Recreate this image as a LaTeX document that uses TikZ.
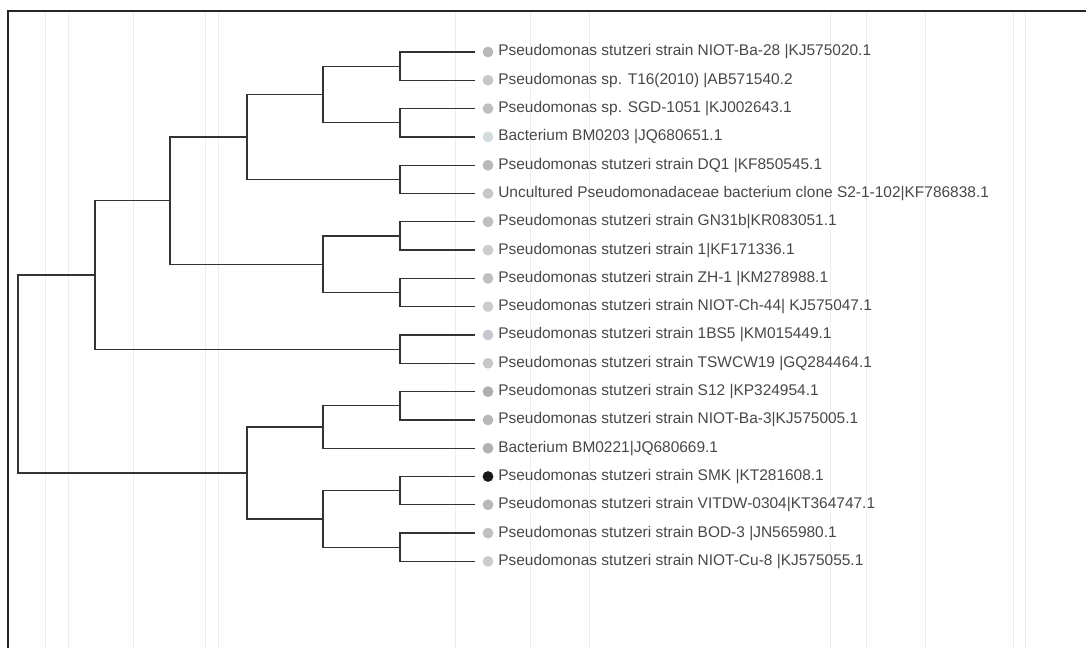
\documentclass[tikz,border=0pt]{standalone}
\usepackage{fontspec}
\setmainfont{Liberation Sans}
\begin{document}
\begin{tikzpicture}[
    x=0.025cm, y=-0.025cm,
    branch/.style={draw=black!80, line width=0.9pt},
    taxon/.style={anchor=west, inner sep=0pt, text=black!72, font=\fontsize{11}{13}\selectfont},
    tipdot/.style={circle, inner sep=0pt, minimum size=0.27cm},
]
\useasboundingbox (0,0) rectangle (1086,648);

% faint rules of the scanned page
\foreach \x in {45,68,133,205,218,455,530,589,830,866,925,1013,1025} {
  \draw[black!7, line width=0.6pt] (\x,11) -- (\x,648);
}

% frame
\draw[black!85, line width=1.4pt] (1086,11) -- (8,11) -- (8,648);

% leaves
\foreach \i/\col/\lab in {
  1/black!28/{Pseudomonas stutzeri strain NIOT-Ba-28 |KJ575020.1},
  2/black!22/{Pseudomonas sp. T16(2010) |AB571540.2},
  3/black!25/{Pseudomonas sp. SGD-1051 |KJ002643.1},
  4/cyan!30!black!20/{Bacterium BM0203 |JQ680651.1},
  5/black!28/{Pseudomonas stutzeri strain DQ1 |KF850545.1},
  6/black!22/{Uncultured Pseudomonadaceae bacterium clone S2-1-102|KF786838.1},
  7/black!25/{Pseudomonas stutzeri strain GN31b|KR083051.1},
  8/black!20/{Pseudomonas stutzeri strain 1|KF171336.1},
  9/black!25/{Pseudomonas stutzeri strain ZH-1 |KM278988.1},
  10/black!20/{Pseudomonas stutzeri strain NIOT-Ch-44| KJ575047.1},
  11/blue!15!black!22/{Pseudomonas stutzeri strain 1BS5 |KM015449.1},
  12/black!22/{Pseudomonas stutzeri strain TSWCW19 |GQ284464.1},
  13/black!32/{Pseudomonas stutzeri strain S12 |KP324954.1},
  14/black!28/{Pseudomonas stutzeri strain NIOT-Ba-3|KJ575005.1},
  15/black!30/{Bacterium BM0221|JQ680669.1},
  16/black!90/{Pseudomonas stutzeri strain SMK |KT281608.1},
  17/black!28/{Pseudomonas stutzeri strain VITDW-0304|KT364747.1},
  18/black!25/{Pseudomonas stutzeri strain BOD-3 |JN565980.1},
  19/black!20/{Pseudomonas stutzeri strain NIOT-Cu-8 |KJ575055.1}}{
  \pgfmathsetmacro{\yy}{52+28.3*(\i-1)}
  \coordinate (t\i) at (475,\yy);
  \node[tipdot, fill=\col] (m\i) at (488,\yy) {};
  \node[taxon] (l\i) at (498,\yy) {\lab};
}

% internal nodes
\coordinate (a12) at (400,66.2);
\coordinate (a34) at (400,122.8);
\coordinate (a56) at (400,179.4);
\coordinate (a78) at (400,236.0);
\coordinate (a910) at (400,292.6);
\coordinate (a1112) at (400,349.2);
\coordinate (a1314) at (400,405.8);
\coordinate (a1617) at (400,490.7);
\coordinate (a1819) at (400,547.3);
\coordinate (b1234) at (323,94.5);
\coordinate (b710) at (323,264.3);
\coordinate (b1315) at (323,427.0);
\coordinate (b1619) at (323,519.0);
\coordinate (c16) at (247,137.0);
\coordinate (c1319) at (247,473.0);
\coordinate (d110) at (170,200.6);
\coordinate (e112) at (95,274.9);
\coordinate (root) at (18,374.0);

% branches
\foreach \c/\p in {
  t1/a12, t2/a12, t3/a34, t4/a34, t5/a56, t6/a56, t7/a78, t8/a78,
  t9/a910, t10/a910, t11/a1112, t12/a1112, t13/a1314, t14/a1314,
  t16/a1617, t17/a1617, t18/a1819, t19/a1819,
  a12/b1234, a34/b1234, a78/b710, a910/b710,
  a1314/b1315, t15/b1315, a1617/b1619, a1819/b1619,
  b1234/c16, a56/c16, b1315/c1319, b1619/c1319,
  c16/d110, b710/d110, d110/e112, a1112/e112,
  e112/root, c1319/root}{
  \draw[branch] (\c) -| (\p);
}
\end{tikzpicture}
\end{document}
